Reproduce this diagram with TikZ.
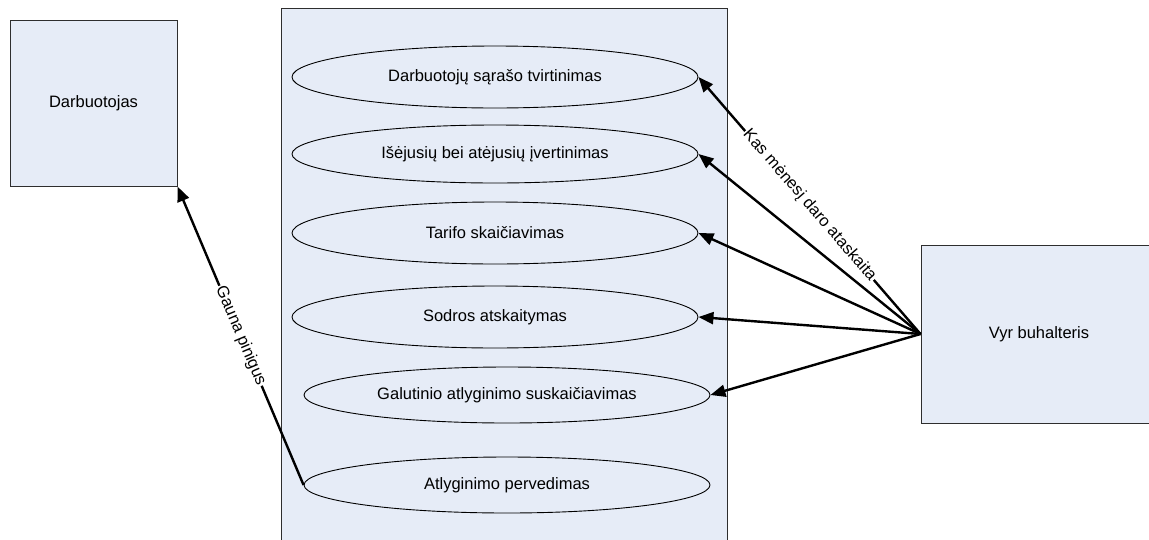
\documentclass[tikz,border=0pt]{standalone}
\usepackage{fontspec}
\setmainfont{Liberation Sans}
\usetikzlibrary{shapes.geometric,arrows.meta}
\definecolor{boxfill}{HTML}{E6ECF7}
\definecolor{edge}{HTML}{2E2E2E}
\begin{document}
\begin{tikzpicture}[x=1pt,y=-1pt,
  font=\fontsize{16.5}{19}\selectfont,
  actor/.style={draw=edge, fill=boxfill, line width=1pt, rectangle, inner sep=0pt},
  usecase/.style={ellipse, draw=black, line width=0.9pt, minimum width=406pt,
    minimum height=62pt, inner sep=0pt},
  assoc/.style={line width=2.4pt, -{Triangle[length=15pt,width=12pt]}},
  tag/.style={fill=white, sloped, inner sep=1pt, midway}
]
\clip (0,0) rectangle (1149,539);
\fill[white] (0,0) rectangle (1149,539);

% actors and system boundary
\node[actor, minimum width=167pt, minimum height=166pt] (darb) at (93.5,103) {Darbuotojas};
\node[actor, minimum width=446pt, minimum height=537pt] (system) at (504,276.5) {};
\node[actor, minimum width=236pt, minimum height=178pt] (vyr) at (1039,334) {};
\node at (1039,334) {Vyr buhalteris};

% use cases
\node[usecase] (uc1) at (495,77) {Darbuotojų sąrašo tvirtinimas};
\node[usecase, minimum height=58pt] (uc2) at (495,154) {Išėjusių bei atėjusių įvertinimas};
\node[usecase] (uc3) at (495,233) {Tarifo skaičiavimas};
\node[usecase] (uc4) at (495,317) {Sodros atskaitymas};
\node[usecase, minimum height=56pt] (uc5) at (507,395) {Galutinio atlyginimo suskaičiavimas};
\node[usecase, minimum height=56pt] (uc6) at (507,485) {Atlyginimo pervedimas};

% associations
\draw[assoc] (vyr.west) -- (uc1.east) node[tag] {Kas mėnesį daro ataskaita};
\draw[assoc] (vyr.west) -- (uc2.east);
\draw[assoc] (vyr.west) -- (uc3.east);
\draw[assoc] (vyr.west) -- (uc4.east);
\draw[assoc] (vyr.west) -- (uc5.east);
\draw[assoc] (uc6.west) -- (darb.south east) node[tag] {Gauna pinigus};
\end{tikzpicture}
\end{document}
